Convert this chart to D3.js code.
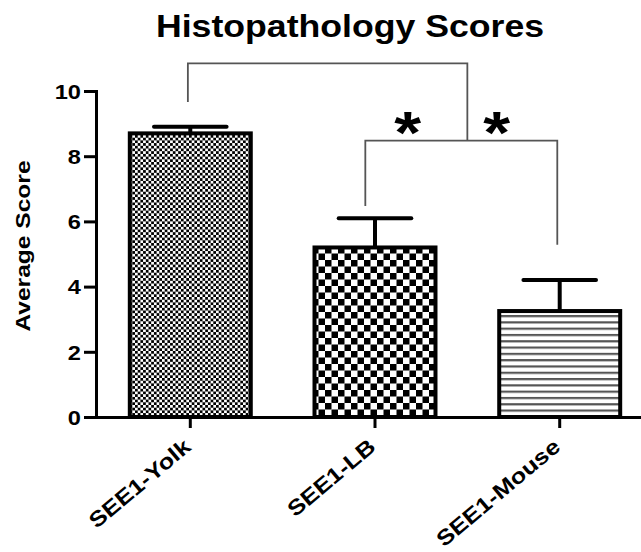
<!DOCTYPE html>
<html>
<head>
<meta charset="utf-8">
<script src="https://cdn.jsdelivr.net/npm/d3@7"></script>
<style>
  body { margin: 0; background: #fff; }
  text { font-family: "Liberation Sans", Arial, sans-serif; font-weight: bold; fill: #000; }
</style>
</head>
<body>
<svg id="chart"></svg>
<script>
// data
const categories = ["SEE1-Yolk", "SEE1-LB", "SEE1-Mouse"];
const means = [8.7, 5.2, 3.25];
const sems = [0.2, 0.9, 0.95];
const fills = ["fineCheck", "coarseCheck", "hLines"];
const yTicks = [0, 2, 4, 6, 8, 10];

// significance brackets (y in score units)
const bracketLevel = [10.85, 8.48];
const bracketLeftEnd = [9.66, 6.47];
const bracketRightEnd = [8.48, 5.28];
const starLabels = ["*", "*"];

const W = 641, H = 552;
const sx = 1.18; // the original font is wider than Liberation Sans

const svg = d3.select("#chart").attr("width", W).attr("height", H);

const x = d3.scaleBand()
  .domain(categories)
  .range([96, 654])
  .paddingInner(0.345)
  .paddingOuter(0.183);
const y = d3.scaleLinear().domain([0, 10]).range([417, 91]);
const bw = x.bandwidth();
const at = (cat, f) => x(cat) + bw * f;

// fill patterns
const defs = svg.append("defs");
function checker(id, s) {
  const p = defs.append("pattern")
    .attr("id", id)
    .attr("patternUnits", "userSpaceOnUse")
    .attr("width", 2 * s)
    .attr("height", 2 * s);
  p.append("rect").attr("width", 2 * s).attr("height", 2 * s).attr("fill", "#fff");
  p.append("rect").attr("width", s).attr("height", s).attr("fill", "#000");
  p.append("rect").attr("x", s).attr("y", s).attr("width", s).attr("height", s).attr("fill", "#000");
}
checker("fineCheck", 2.7);
checker("coarseCheck", 6.5);
const hp = defs.append("pattern")
  .attr("id", "hLines")
  .attr("patternUnits", "userSpaceOnUse")
  .attr("width", 10)
  .attr("height", 6.3);
hp.append("rect").attr("width", 10).attr("height", 6.3).attr("fill", "#fff");
hp.append("rect").attr("width", 10).attr("height", 2.2).attr("fill", "#555");

// error bars (upper only)
const err = svg.append("g").attr("stroke", "#000").attr("stroke-width", 4);
err.selectAll(".stem")
  .data(categories)
  .join("line")
  .attr("x1", (d) => x(d) + bw / 2)
  .attr("x2", (d) => x(d) + bw / 2)
  .attr("y1", (d, i) => y(means[i]))
  .attr("y2", (d, i) => y(means[i] + sems[i]));
err.selectAll(".cap")
  .data(categories)
  .join("line")
  .attr("stroke-linecap", "round")
  .attr("x1", (d) => x(d) + bw * 0.2)
  .attr("x2", (d) => x(d) + bw * 0.8)
  .attr("y1", (d, i) => y(means[i] + sems[i]))
  .attr("y2", (d, i) => y(means[i] + sems[i]));

// bars
svg.selectAll(".bar")
  .data(categories)
  .join("rect")
  .attr("class", "bar")
  .attr("x", (d) => x(d))
  .attr("y", (d, i) => y(means[i]))
  .attr("width", bw)
  .attr("height", (d, i) => y(0) - y(means[i]))
  .attr("fill", (d, i) => `url(#${fills[i]})`)
  .attr("stroke", "#000")
  .attr("stroke-width", 4);

// axes
const yAxis = svg.append("g")
  .attr("transform", "translate(96,0)")
  .call(d3.axisLeft(y).tickValues(yTicks).tickSize(12).tickSizeOuter(0));
yAxis.select(".domain").attr("stroke-width", 3).attr("stroke-linecap", "square");
yAxis.selectAll(".tick line").attr("stroke-width", 3);
yAxis.selectAll(".tick text")
  .attr("x", 0)
  .attr("dy", "0.36em")
  .attr("transform", `translate(-15,0) scale(${sx},1)`)
  .style("font-size", "20px");

const xAxis = svg.append("g")
  .attr("transform", "translate(0,417)")
  .call(d3.axisBottom(x).tickSize(11).tickSizeOuter(0));
xAxis.select(".domain").attr("stroke-width", 3);
xAxis.selectAll(".tick line").attr("stroke-width", 3);
xAxis.selectAll(".tick text")
  .attr("y", 0)
  .attr("dy", 0)
  .attr("text-anchor", "end")
  .attr("transform", `translate(2,32) rotate(-40) scale(${sx},1)`)
  .style("font-size", "21.5px");

// significance brackets
const bx = [
  [at("SEE1-Yolk", 0.48), (x("SEE1-LB") + x("SEE1-Mouse")) / 2 + bw / 2],
  [at("SEE1-LB", 0.42), at("SEE1-Mouse", 0.48)],
];
const br = svg.append("g")
  .attr("fill", "none")
  .attr("stroke", "#555")
  .attr("stroke-width", 1.8);
br.selectAll("path")
  .data(bracketLevel)
  .join("path")
  .attr("d", (lv, i) =>
    `M${bx[i][0]},${y(bracketLeftEnd[i])}V${y(lv)}H${bx[i][1]}V${y(bracketRightEnd[i])}`);

const starX = [at("SEE1-LB", 0.77), at("SEE1-Mouse", -0.02)];
svg.selectAll(".star")
  .data(starLabels)
  .join("text")
  .attr("class", "star")
  .attr("text-anchor", "middle")
  .attr("transform", (d, i) => `translate(${starX[i]},${y(bracketLevel[1]) + 12}) scale(1.15,1)`)
  .style("font-size", "60px")
  .text((d) => d);

// title and y label
svg.append("text")
  .attr("text-anchor", "middle")
  .attr("transform", "translate(350,37) scale(1.15,1)")
  .style("font-size", "31px")
  .text("Histopathology Scores");

svg.append("text")
  .attr("text-anchor", "middle")
  .attr("transform", "translate(30,246) rotate(-90) scale(1.17,1)")
  .style("font-size", "21px")
  .text("Average Score");
</script>
</body>
</html>
